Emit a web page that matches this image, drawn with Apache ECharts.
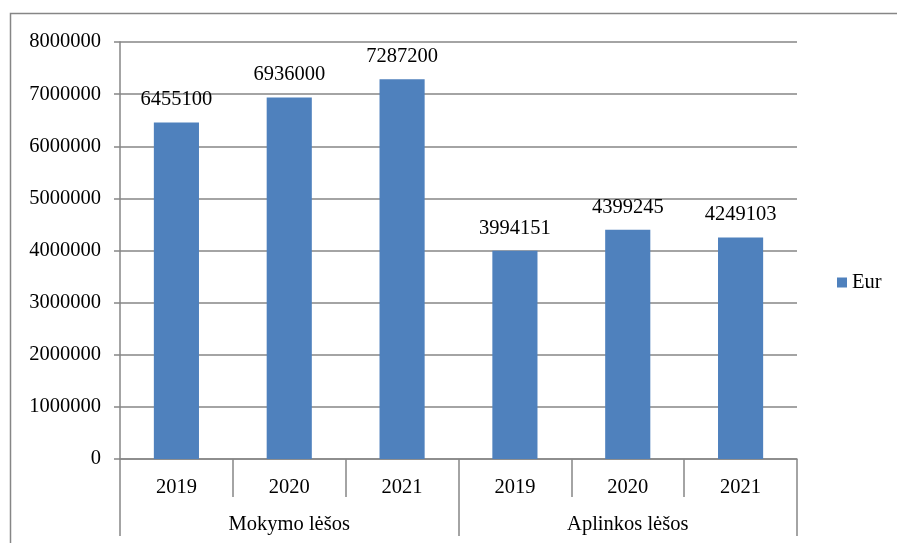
<!DOCTYPE html>
<html>
<head>
<meta charset="utf-8">
<script src="https://cdn.jsdelivr.net/npm/echarts@6/dist/echarts.min.js"></script>
<style>html,body{margin:0;padding:0;background:#fff}#c{width:897px;height:543px}</style>
</head>
<body>
<div id="c"></div>
<script>
const years = ['2019','2020','2021','2019','2020','2021'];
const groups = ['Mokymo lėšos','Aplinkos lėšos'];
const values = [6455100, 6936000, 7287200, 3994151, 4399245, 4249103];
const yTicks = { min: 0, max: 8000000, interval: 1000000 };
const seriesName = 'Eur';

const FONT = 'Liberation Serif';
const FS = 20.5;
const GRAY = '#868686';
const chart = echarts.init(document.getElementById('c'), null, {renderer: 'canvas'});
chart.setOption({
  animation: false,
  backgroundColor: '#fff',
  textStyle: { fontFamily: FONT },
  graphic: [{
    type: 'rect', shape: { x: 10.5, y: 13.5, width: 900, height: 540 },
    style: { fill: 'none', stroke: GRAY, lineWidth: 1.5 }, silent: true
  }],
  legend: {
    data: [seriesName], orient: 'vertical', left: 832, top: 267,
    itemWidth: 10, itemHeight: 10, icon: 'rect',
    textStyle: { fontFamily: FONT, fontSize: FS, color: '#000' }
  },
  grid: { left: 120, right: 100, top: 42, bottom: 84, containLabel: false },
  xAxis: [{
    type: 'category', data: years, position: 'bottom',
    axisLine: { show: true, lineStyle: { color: GRAY, width: 1.5 } },
    axisTick: { show: true, length: 38, lineStyle: { color: GRAY, width: 1.5 } },
    axisLabel: { fontFamily: FONT, fontSize: FS, color: '#000', margin: 18 }
  }, {
    type: 'category', data: groups, position: 'bottom',
    axisLine: { show: false },
    axisTick: { show: true, length: 77, lineStyle: { color: GRAY, width: 1.5 } },
    axisLabel: { fontFamily: FONT, fontSize: FS, color: '#000', margin: 55 }
  }],
  yAxis: {
    type: 'value', min: yTicks.min, max: yTicks.max, interval: yTicks.interval,
    axisLine: { show: true, lineStyle: { color: GRAY, width: 1.5 } },
    axisTick: { show: true, length: 6, lineStyle: { color: GRAY, width: 1.5 } },
    splitLine: { show: true, lineStyle: { color: GRAY, width: 1.5 } },
    axisLabel: { fontFamily: FONT, fontSize: FS, color: '#000', margin: 19,
      formatter: v => String(v) }
  },
  series: [{
    name: seriesName, type: 'bar', data: values, barWidth: '40%', xAxisIndex: 0,
    itemStyle: { color: '#4F81BD' },
    label: { show: true, position: 'top', distance: 12, fontFamily: FONT, fontSize: FS, color: '#000' }
  }]
});
</script>
</body>
</html>
